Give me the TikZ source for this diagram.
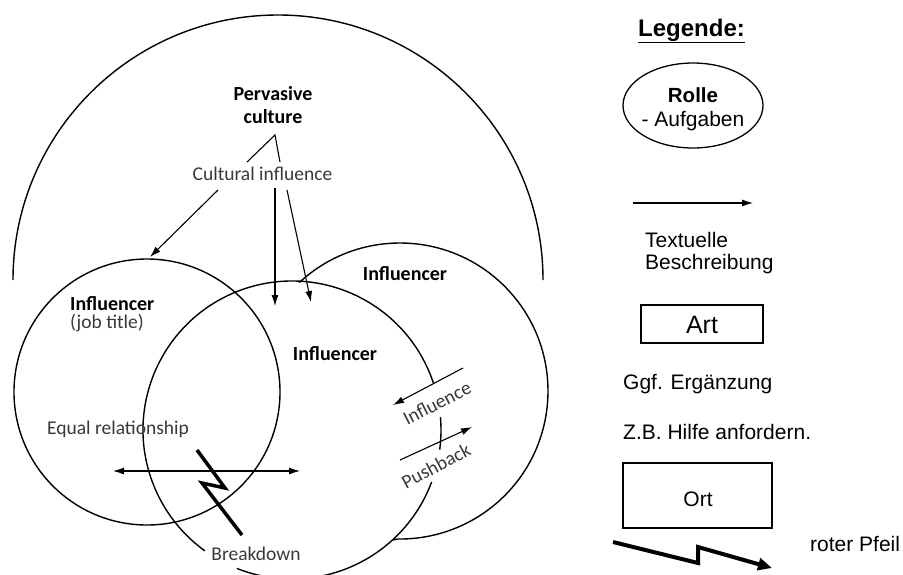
\documentclass[tikz,border=0pt]{standalone}
\usepackage{fontspec}
\setmainfont{Carlito}
\newfontfamily\legendfont{Liberation Sans}
\usetikzlibrary{arrows.meta,shapes.geometric}

\begin{document}
\begin{tikzpicture}[x=1pt,y=-1pt,
  ring/.style={line width=1.4pt},
  conn/.style={line width=1.1pt,-{Latex[length=11pt,width=7pt]}},
  boldlbl/.style={font=\fontsize{20}{23}\selectfont\bfseries, inner sep=0pt},
  lbl/.style={font=\fontsize{19.5}{23}\selectfont, text=black!78, inner sep=0pt},
  leg/.style={font=\legendfont\fontsize{21}{24}\selectfont, inner sep=0pt},
  bolt/.style={line width=3.5pt, line join=miter},
]
\useasboundingbox (0,0) rectangle (903,574);

% ---------- culture dome ----------
\coordinate (domeC) at (278,280);
\draw[ring] (domeC) ++(180:265) arc[start angle=180,end angle=360,radius=265];

% ---------- influencer circles ----------
\node[circle, draw, ring, minimum size=266pt, inner sep=0pt] (jobC) at (147,392) {};

\coordinate (midC) at (292,430);
\draw[ring] (midC) ++(-18.4:149) arc[start angle=-18.4,end angle=-234.2,radius=149];
\draw[ring] (midC) ++(-248.3:149) arc[start angle=-248.3,end angle=-339.6,radius=149];
\draw[ring] (midC) ++(-352.4:149) arc[start angle=-352.4,end angle=-365,radius=149];

\coordinate (rightC) at (400,391);
\coordinate (rightEnd) at (393,540);
\draw[ring] (rightC) ++(-132.9:148) arc[start angle=-132.9,end angle=91,radius=148] -- (rightEnd);

% ---------- labels ----------
\node[boldlbl, anchor=base] (culture) at (273,100) {Pervasive};
\node[boldlbl, anchor=base] (culture2) at (273,123) {culture};
\node[lbl, anchor=base] (cultinf) at (262.5,180) {Cultural influence};
\node[boldlbl, anchor=base] (infR) at (405,280) {Influencer};
\node[boldlbl, anchor=base west] (infL) at (70,310) {Influencer};
\node[lbl, anchor=base west] (job) at (70,328) {(job title)};
\node[boldlbl, anchor=base] (infM) at (335,360) {Influencer};
\node[lbl, anchor=base] (equal) at (118,434) {Equal relationship};
\node[lbl, anchor=base] (brk) at (256,560) {Breakdown};
\node[lbl, rotate=27] (infl) at (437,403) {Influence};
\node[lbl, rotate=28] (push) at (436,466) {Pushback};

% ---------- culture connectors ----------
\coordinate (apex) at (275,135);
\coordinate (apexL) at (247,162);
\coordinate (apexR) at (280,162);
\draw[line width=1.1pt] (apexL) -- (apex) -- (apexR);

\coordinate (a1s) at (218,190);  \coordinate (a1e) at (150,257);
\coordinate (a2s) at (275,188);  \coordinate (a2e) at (275,306);
\coordinate (a3s) at (287,190);  \coordinate (a3e) at (311,302);
\draw[conn] (a1s) -- (a1e);
\draw[conn] (a2s) -- (a2e);
\draw[conn] (a3s) -- (a3e);

% ---------- relationship arrows ----------
\coordinate (eqL) at (113,471);
\coordinate (eqR) at (300,471);
\draw[line width=1.1pt,{Latex[length=11pt,width=7pt]}-{Latex[length=11pt,width=7pt]}] (eqL) -- (eqR);

\coordinate (inS) at (463,368);  \coordinate (inE) at (393,405);
\coordinate (pbS) at (400,460);  \coordinate (pbE) at (472,427);
\draw[conn] (inS) -- (inE);
\draw[conn] (pbS) -- (pbE);

% breakdown bolt
\coordinate (b1) at (197,450);
\coordinate (b2) at (225,488);
\coordinate (b3) at (202,483);
\coordinate (b4) at (242,535);
\draw[bolt] (b1) -- (b2) -- (b3) -- (b4);

% ---------- legend ----------
\node[leg, font=\legendfont\fontsize{24}{26}\selectfont\bfseries, anchor=base west] (legtitle) at (638,36) {\underline{Legende:}};

\node[ellipse, draw, line width=1.3pt, minimum width=140pt, minimum height=85pt, inner sep=0pt] (rolle) at (693,105.5) {};
\node[leg, font=\legendfont\fontsize{20.5}{24}\selectfont\bfseries, anchor=base] (rolleT) at (693,102) {Rolle};
\node[leg, anchor=base] (rolleA) at (693,126) {- Aufgaben};

\coordinate (lgS) at (633,203);
\coordinate (lgE) at (753,203);
\draw[line width=1.2pt,-{Latex[length=11pt,width=7pt]}] (lgS) -- (lgE);
\node[leg, anchor=base west] (txt1) at (645,247) {Textuelle};
\node[leg, anchor=base west] (txt2) at (645,269) {Beschreibung};

\node[draw, line width=1.3pt, minimum width=122pt, minimum height=38pt, inner sep=0pt] (art) at (702,324) {};
\node[leg, font=\legendfont\fontsize{25}{27}\selectfont, anchor=base] (artT) at (702,333) {Art};

\node[leg, anchor=base west] (ggf) at (623,389) {Ggf. Ergänzung};
\node[leg, anchor=base west] (zb) at (623,439) {Z.B. Hilfe anfordern.};

\node[draw, line width=1.3pt, minimum width=149pt, minimum height=65pt, inner sep=0pt] (ort) at (697.5,495.5) {};
\node[leg, anchor=base] (ortT) at (698,506) {Ort};

\coordinate (z1) at (613,542);
\coordinate (z2) at (698,563);
\coordinate (z3) at (698,547);
\coordinate (z4) at (772,568);
\draw[line width=4pt, line join=miter, -{Triangle[length=14pt,width=12pt]}] (z1) -- (z2) -- (z3) -- (z4);
\node[leg, anchor=base west] (roter) at (810,551) {roter Pfeil};
\end{tikzpicture}
\end{document}
